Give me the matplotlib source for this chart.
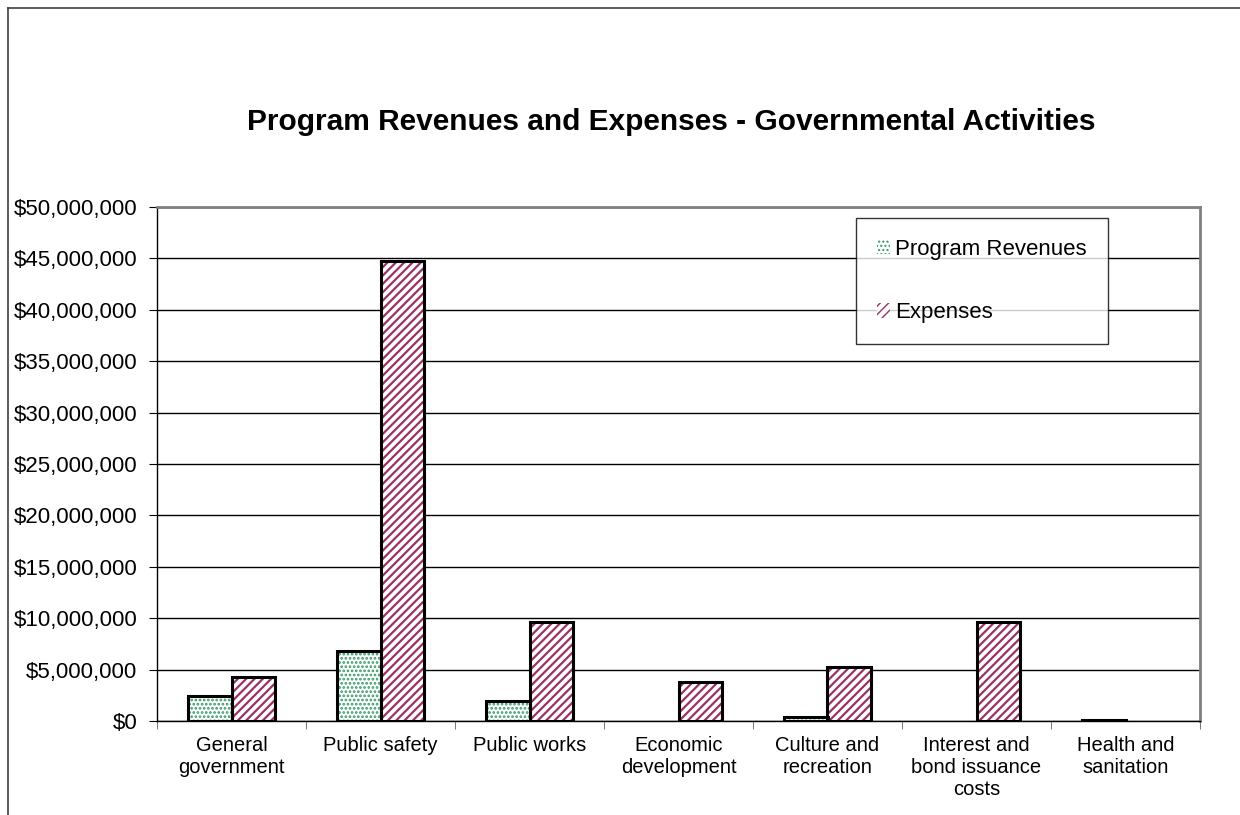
import matplotlib.pyplot as plt
from matplotlib.ticker import FuncFormatter, MultipleLocator
import numpy as np

categories = ['General\ngovernment', 'Public safety', 'Public works', 'Economic\ndevelopment',
              'Culture and\nrecreation', 'Interest and\nbond issuance\ncosts', 'Health and\nsanitation']
revenues = [2460000, 6840000, 1950000, 0, 420000, 0, 80000]
expenses = [4280000, 44700000, 9630000, 3800000, 5250000, 9630000, 0]

plt.rcParams['font.family'] = ['Liberation Sans', 'DejaVu Sans']

green = '#339966'
maroon = '#993366'

fig = plt.figure(figsize=(12.4, 8.15), dpi=100)
ax = fig.add_axes([157 / 1240, 94 / 815, 1043 / 1240, 514 / 815])

x = np.arange(len(categories))
w = 0.29

def outline(vals):
    # no outline for empty bars
    return [2.2 if v > 0 else 0 for v in vals]

# fill with coloured hatch first, then black outline on top
with plt.rc_context({'hatch.linewidth': 1.3}):
    rev = ax.bar(x - w / 2, revenues, w, color='white', edgecolor=green, hatch='....', linewidth=0, zorder=3)
with plt.rc_context({'hatch.linewidth': 1.6}):
    exp = ax.bar(x + w / 2, expenses, w, color='white', edgecolor=maroon, hatch='////', linewidth=0, zorder=3)
ax.bar(x - w / 2, revenues, w, fill=False, edgecolor='black', linewidth=outline(revenues), zorder=4)
ax.bar(x + w / 2, expenses, w, fill=False, edgecolor='black', linewidth=outline(expenses), zorder=4)

ax.set_xlim(-0.5, len(categories) - 0.5)
ax.set_ylim(0, 50000000)
ax.yaxis.set_major_locator(MultipleLocator(5000000))
ax.yaxis.set_major_formatter(FuncFormatter(lambda v, p: '${:,.0f}'.format(v)))
ax.grid(axis='y', color='black', linewidth=1, zorder=1)
ax.set_axisbelow(True)

ax.set_xticks(x)
ax.set_xticklabels(categories, fontsize=14.5, va='top')
ax.tick_params(axis='x', length=0, pad=11)
ax.set_xticks(np.arange(len(categories) + 1) - 0.5, minor=True)
ax.tick_params(axis='x', which='minor', length=6, color='#606060', direction='out')
ax.tick_params(axis='y', labelsize=16, length=6, color='black', direction='out', pad=8)

for s in ax.spines.values():
    s.set_color('#808080')
    s.set_linewidth(2)
ax.spines['left'].set_color('black')
ax.spines['left'].set_linewidth(1)
ax.spines['bottom'].set_color('black')
ax.spines['bottom'].set_linewidth(1)

fig.text(671 / 1240, 1 - 122 / 815, 'Program Revenues and Expenses - Governmental Activities',
         ha='center', va='center', fontsize=21.5, fontweight='bold')

leg = ax.legend([rev, exp], ['Program Revenues', 'Expenses'], loc='upper left',
                bbox_to_anchor=((856 - 157) / 1043, 1 - (218 - 207) / 514),
                fontsize=16, frameon=True, fancybox=False, edgecolor='black',
                handlelength=0.6, handleheight=0.6, handletextpad=0.2,
                labelspacing=1.9, borderpad=0.95, borderaxespad=0)
leg.get_frame().set_linewidth(1)

# outer chart border (left and top only visible)
fig.add_artist(plt.Line2D([8 / 1240, 8 / 1240], [0, 1 - 8 / 815], color='#404040', linewidth=1.2))
fig.add_artist(plt.Line2D([8 / 1240, 1], [1 - 8 / 815, 1 - 8 / 815], color='#404040', linewidth=1.2))

fig.savefig('out.png', dpi=100)
